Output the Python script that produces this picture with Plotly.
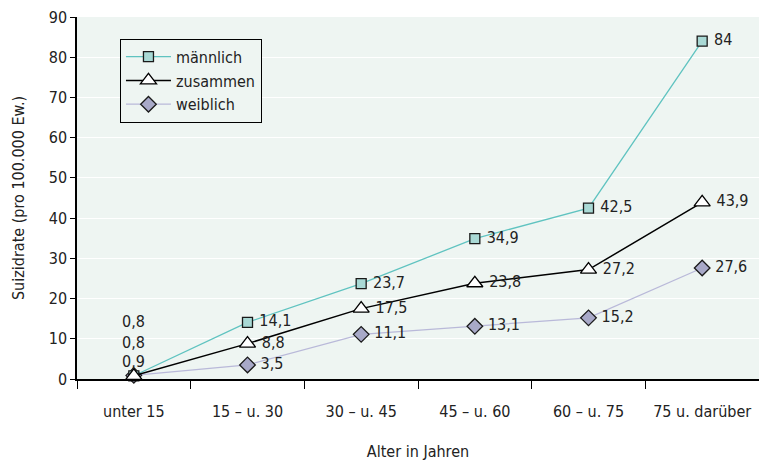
import plotly.graph_objects as go

categories = ["unter 15", "15 – u. 30", "30 – u. 45", "45 – u. 60", "60 – u. 75", "75 u. darüber"]
maennlich = [0.8, 14.1, 23.7, 34.9, 42.5, 84]
zusammen = [0.8, 8.8, 17.5, 23.8, 27.2, 43.9]
weiblich = [0.9, 3.5, 11.1, 13.1, 15.2, 27.6]
y_ticks = [0, 10, 20, 30, 40, 50, 60, 70, 80, 90]

FONT = "DejaVu Sans Condensed, Liberation Sans Narrow, sans-serif"


def fmt(v):
    return ("%g" % v).replace(".", ",")


# drawing order: weiblich below, zusammen on top; legend order via legendrank
series = [
    ("weiblich", weiblich, dict(color="#B9B9D9", width=1.3),
     dict(symbol="diamond", size=12, color="#A8A9C8", line=dict(color="#1a1a1a", width=1.3)), 14, 3),
    ("männlich", maennlich, dict(color="#5FC3C0", width=1.3),
     dict(symbol="square", size=10, color="#A9D9D5", line=dict(color="#1a1a1a", width=1.3)), 54, 1),
    ("zusammen", zusammen, dict(color="#000000", width=1.5),
     dict(symbol="triangle-up", size=14, color="#FFFFFF", line=dict(color="#000000", width=1.3)), 33, 2),
]

fig = go.Figure()
for name, vals, line, marker, shift, rank in series:
    texts = [""] + [" " + fmt(v) for v in vals[1:]]
    fig.add_trace(go.Scatter(
        x=categories, y=vals, name=name, mode="lines+markers+text", legendrank=rank,
        line=line, marker=marker, text=texts, textposition="middle right",
        textfont=dict(family=FONT, size=16, color="#222222"), cliponaxis=False,
    ))
    fig.add_annotation(x=categories[0], y=vals[0], text=fmt(vals[0]), showarrow=False,
                       yshift=shift, font=dict(family=FONT, size=16, color="#222222"))

fig.update_layout(
    width=759, height=464,
    margin=dict(l=77, r=0, t=17, b=85),
    paper_bgcolor="white", plot_bgcolor="#EEF5F2",
    font=dict(family=FONT, size=16, color="#222222"),
    showlegend=True,
    legend=dict(x=0.063, y=0.94, xanchor="left", yanchor="top",
                bgcolor="#EEF5F2", bordercolor="#000000", borderwidth=1,
                font=dict(family=FONT, size=16), tracegroupgap=0, itemwidth=45,
                traceorder="normal"),
    xaxis=dict(type="category", range=[-0.5, 5.5], tickson="boundaries",
               ticks="outside", ticklen=8, tickcolor="#000", tickwidth=1.3,
               showline=True, linecolor="#000", linewidth=2, showgrid=False,
               ticklabelstandoff=17, ticklabeloverflow="allow",
               title=dict(text="Alter in Jahren", standoff=26, font=dict(size=16))),
    yaxis=dict(range=[0, 90], tickvals=y_ticks, ticks="outside", ticklen=5,
               tickcolor="#000", showline=True, linecolor="#000", linewidth=1.5,
               gridcolor="#FFFFFF", gridwidth=1, zeroline=False, ticklabeloverflow="allow",
               title=dict(text="Suizidrate (pro 100.000 Ew.)", standoff=20, font=dict(size=16))),
)

fig.write_html("out.html", config={"displayModeBar": False},
               post_script="document.body.style.margin='0';")
